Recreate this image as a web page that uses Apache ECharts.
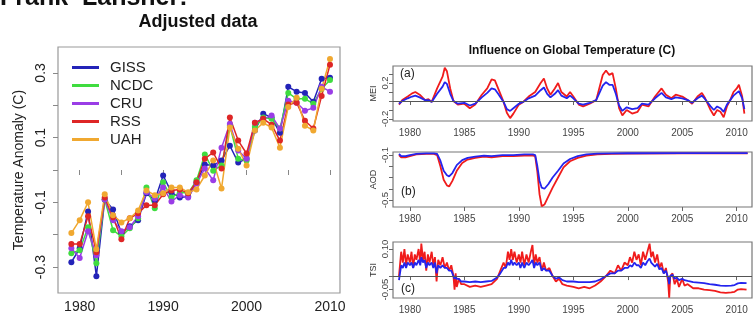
<!DOCTYPE html>
<html>
<head>
<meta charset="utf-8">
<script src="https://cdn.jsdelivr.net/npm/echarts@6/dist/echarts.min.js"></script>
<style>
    html, body { margin: 0; padding: 0; background: #fff; }
    #main { width: 755px; height: 318px; }
</style>
</head>
<body>
<div id="main"></div>
<script>
// 左图: 调整后的年均温度距平
var years = [1979, 1980, 1981, 1982, 1983, 1984, 1985, 1986, 1987, 1988, 1989, 1990, 1991, 1992, 1993, 1994,
    1995, 1996, 1997, 1998, 1999, 2000, 2001, 2002, 2003, 2004, 2005, 2006, 2007, 2008, 2009, 2010];
var giss = [-0.285, -0.242, -0.128, -0.328, -0.091, -0.122, -0.195, -0.174, -0.155, -0.072, -0.094, -0.017, -0.069, -0.085, -0.082, -0.038,
    0.017, 0.014, 0.029, 0.075, 0.023, 0.035, 0.122, 0.174, 0.162, 0.115, 0.257, 0.242, 0.238, 0.211, 0.282, 0.285];
var ncdc = [-0.257, -0.248, -0.177, -0.288, -0.091, -0.186, -0.205, -0.180, -0.149, -0.054, -0.118, -0.038, -0.085, -0.069, -0.072, -0.032,
    0.048, -0.002, 0.014, 0.137, 0.035, 0.029, 0.134, 0.162, 0.158, 0.128, 0.238, 0.220, 0.220, 0.205, 0.251, 0.278];
var cru = [-0.242, -0.272, -0.189, -0.263, -0.091, -0.155, -0.189, -0.177, -0.143, -0.069, -0.088, -0.054, -0.097, -0.078, -0.085, -0.042,
    0.005, -0.032, 0.069, 0.143, 0.060, 0.035, 0.146, 0.158, 0.168, 0.128, 0.214, 0.208, 0.183, 0.192, 0.257, 0.242];
var rss = [-0.229, -0.229, -0.143, -0.254, -0.085, -0.146, -0.214, -0.149, -0.134, -0.109, -0.109, -0.075, -0.063, -0.060, -0.072, -0.038,
    0.035, 0.054, 0.005, 0.162, 0.091, 0.051, 0.146, 0.158, 0.140, 0.091, 0.202, 0.208, 0.152, 0.128, 0.229, 0.325];
var uah = [-0.195, -0.155, -0.100, -0.245, -0.075, -0.140, -0.162, -0.149, -0.125, -0.063, -0.078, -0.072, -0.054, -0.054, -0.069, -0.060,
    -0.017, 0.029, -0.057, 0.131, 0.066, 0.014, 0.122, 0.146, 0.131, 0.069, 0.195, 0.223, 0.137, 0.122, 0.251, 0.343];
var leftTicksX = [1980, 1985, 1990, 1995, 2000, 2005, 2010];
var leftLabelsX = [1980, 1990, 2000, 2010];
var leftTicksY = [-0.3, -0.2, -0.1, 0, 0.1, 0.2, 0.3];
var leftLabelsY = [-0.3, -0.1, 0.1, 0.3];

// 右图 (a) MEI
var meiT = [1979.0, 1979.3, 1979.8, 1980.2, 1980.5, 1980.9, 1981.4, 1981.7, 1982.0, 1982.5, 1983.0, 1983.2, 1983.4, 1983.7,
    1984.0, 1984.4, 1985.0, 1985.5, 1986.0, 1986.6, 1987.1, 1987.5, 1987.8, 1988.1, 1988.6, 1988.9, 1989.2, 1989.5,
    1990.0, 1990.4, 1990.9, 1991.5, 1992.0, 1992.3, 1992.6, 1992.9, 1993.3, 1993.6, 1993.9, 1994.4, 1994.7, 1995.0,
    1995.5, 1995.9, 1996.5, 1997.1, 1997.7, 1998.0, 1998.3, 1998.6, 1998.9, 1999.2, 1999.5, 1999.9, 2000.4, 2000.9,
    2001.3, 2001.9, 2002.5, 2003.1, 2003.5, 2004.0, 2004.4, 2005.0, 2005.5, 2005.9, 2006.4, 2006.8, 2007.1, 2007.6,
    2007.9, 2008.2, 2008.5, 2008.8, 2009.1, 2009.4, 2009.7, 2010.0, 2010.2, 2010.5, 2010.7];
var meiRss = [-0.04, 0.01, 0.05, 0.085, 0.10, 0.07, 0.01, 0.02, -0.01, 0.14, 0.27, 0.37, 0.33, 0.14,
    0.00, -0.04, -0.03, -0.08, -0.04, 0.07, 0.14, 0.24, 0.23, 0.14, -0.01, -0.13, -0.19, -0.14,
    -0.04, -0.01, 0.05, 0.10, 0.20, 0.25, 0.14, 0.07, 0.14, 0.20, 0.10, 0.05, 0.10, 0.05,
    -0.04, -0.06, -0.03, 0.01, 0.29, 0.34, 0.29, 0.31, 0.14, -0.08, -0.16, -0.10, -0.14, -0.12,
    -0.04, -0.06, 0.05, 0.14, 0.07, 0.03, 0.07, 0.05, 0.01, -0.03, 0.05, 0.09, 0.03, -0.10,
    -0.16, -0.10, -0.12, -0.18, -0.06, 0.01, 0.10, 0.14, 0.18, 0.05, -0.14];
var meiGiss = [-0.03, 0.00, 0.03, 0.05, 0.06, 0.04, 0.01, 0.01, -0.01, 0.08, 0.16, 0.21, 0.19, 0.08,
    0.00, -0.03, -0.02, -0.05, -0.03, 0.04, 0.09, 0.14, 0.13, 0.08, -0.01, -0.09, -0.11, -0.08,
    -0.03, -0.01, 0.03, 0.06, 0.12, 0.15, 0.08, 0.04, 0.08, 0.12, 0.06, 0.03, 0.06, 0.03,
    -0.03, -0.04, -0.02, 0.01, 0.17, 0.21, 0.18, 0.18, 0.08, -0.05, -0.11, -0.07, -0.09, -0.08,
    -0.03, -0.04, 0.03, 0.09, 0.04, 0.02, 0.04, 0.03, 0.01, -0.02, 0.03, 0.06, 0.02, -0.06,
    -0.10, -0.06, -0.08, -0.12, -0.04, 0.01, 0.06, 0.09, 0.11, 0.03, -0.09];

// 右图 (b) AOD
var aodT = [1979.0, 1979.2, 1979.6, 1980.0, 1980.6, 1981.5, 1982.2, 1982.5, 1982.8, 1983.1, 1983.4, 1983.6, 1983.9,
    1984.3, 1984.8, 1985.3, 1986.0, 1986.8, 1987.5, 1988.5, 1989.5, 1990.5, 1991.3, 1991.5, 1991.7, 1991.9, 1992.1,
    1992.35, 1992.7, 1993.1, 1993.6, 1994.1, 1994.7, 1995.4, 1996.2, 1997.2, 1998.5, 2000.0, 2005.0, 2011.0];
var aodRss = [-0.10, -0.12, -0.12, -0.11, -0.095, -0.09, -0.09, -0.10, -0.20, -0.32, -0.37, -0.38, -0.33,
    -0.24, -0.17, -0.14, -0.125, -0.115, -0.12, -0.11, -0.11, -0.105, -0.105, -0.11, -0.25, -0.45, -0.555,
    -0.54, -0.47, -0.39, -0.30, -0.21, -0.155, -0.125, -0.105, -0.095, -0.09, -0.087, -0.085, -0.085];
var aodGiss = [-0.09, -0.11, -0.11, -0.10, -0.09, -0.085, -0.085, -0.09, -0.15, -0.24, -0.28, -0.29, -0.26,
    -0.19, -0.145, -0.125, -0.115, -0.105, -0.11, -0.10, -0.10, -0.095, -0.095, -0.10, -0.20, -0.33, -0.39,
    -0.40, -0.36, -0.30, -0.24, -0.175, -0.135, -0.11, -0.095, -0.088, -0.085, -0.084, -0.083, -0.083];

// 右图 (c) TSI
var tsiT = [1979.0, 1979.2, 1979.35, 1979.5, 1979.65, 1979.8, 1980.0, 1980.15, 1980.3, 1980.45, 1980.6, 1980.8, 1980.95,
    1981.05, 1981.2, 1981.35, 1981.5, 1981.65, 1981.8, 1982.0, 1982.15, 1982.3, 1982.45, 1982.6, 1982.8, 1983.0,
    1983.2, 1983.4, 1983.6, 1983.8, 1984.0, 1984.1, 1984.2, 1984.3, 1984.5, 1984.7, 1985.0, 1985.5, 1986.0, 1986.5,
    1987.0, 1987.5, 1988.0, 1988.3, 1988.6, 1988.8, 1989.0, 1989.15, 1989.3, 1989.45, 1989.6, 1989.8, 1990.0,
    1990.15, 1990.3, 1990.5, 1990.7, 1990.9, 1991.1, 1991.25, 1991.4, 1991.55, 1991.7, 1991.9, 1992.1, 1992.3,
    1992.5, 1992.8, 1993.1, 1993.4, 1993.7, 1994.0, 1994.4, 1995.0, 1995.5, 1996.0, 1996.5, 1997.0, 1997.5,
    1998.0, 1998.4, 1998.8, 1999.1, 1999.4, 1999.7, 2000.0, 2000.2, 2000.4, 2000.6, 2000.8, 2001.0, 2001.2,
    2001.4, 2001.6, 2001.8, 2002.0, 2002.15, 2002.3, 2002.5, 2002.7, 2002.9, 2003.1, 2003.3, 2003.5, 2003.7,
    2003.8, 2003.9, 2004.1, 2004.3, 2004.5, 2004.7, 2005.0, 2005.2, 2005.5, 2006.0, 2006.5, 2007.0, 2007.5,
    2008.0, 2008.5, 2009.0, 2009.5, 2009.8, 2010.1, 2010.4, 2010.9];
var tsiRss = [0.00, 0.09, 0.05, 0.10, 0.04, 0.08, 0.05, 0.09, 0.03, 0.08, 0.06, 0.10, 0.05,
    0.12, 0.06, 0.09, 0.02, 0.08, 0.05, 0.09, 0.04, 0.07, -0.02, 0.06, 0.04, 0.07,
    0.03, 0.05, 0.02, 0.04, 0.00, -0.05, 0.01, -0.04, -0.01, -0.03, -0.03, -0.04, -0.035, -0.04,
    -0.035, -0.03, -0.01, 0.02, 0.05, 0.03, 0.09, 0.06, 0.10, 0.06, 0.09, 0.05, 0.08,
    0.05, 0.09, 0.04, 0.08, 0.05, 0.09, 0.115, 0.04, 0.08, 0.05, 0.07, 0.02, 0.05,
    0.02, 0.03, 0.00, -0.02, -0.01, -0.03, -0.035, -0.04, -0.045, -0.04, -0.045, -0.035, -0.02,
    0.00, 0.02, 0.01, 0.04, 0.02, 0.05, 0.04, 0.07, 0.05, 0.09, 0.06, 0.08, 0.04,
    0.09, 0.06, 0.09, 0.12, 0.07, 0.09, 0.05, 0.08, 0.03, 0.05, 0.01, 0.03, -0.02,
    -0.08, 0.00, 0.01, -0.03, -0.01, -0.04, -0.01, -0.035, -0.03, -0.045, -0.045, -0.05, -0.052,
    -0.055, -0.06, -0.062, -0.06, -0.058, -0.05, -0.048, -0.05];
var tsiGiss = [-0.015, 0.04, 0.03, 0.05, 0.03, 0.05, 0.04, 0.05, 0.03, 0.05, 0.04, 0.06, 0.04,
    0.07, 0.05, 0.06, 0.03, 0.05, 0.04, 0.05, 0.03, 0.05, 0.01, 0.04, 0.03, 0.04,
    0.03, 0.03, 0.02, 0.02, 0.00, -0.01, 0.00, -0.01, -0.01, -0.02, -0.02, -0.022, -0.02, -0.022,
    -0.02, -0.018, -0.005, 0.01, 0.03, 0.03, 0.05, 0.04, 0.06, 0.04, 0.05, 0.04, 0.05,
    0.03, 0.05, 0.03, 0.05, 0.04, 0.05, 0.06, 0.03, 0.05, 0.04, 0.05, 0.02, 0.03,
    0.02, 0.02, 0.00, -0.01, -0.005, -0.015, -0.02, -0.02, -0.022, -0.022, -0.022, -0.02, -0.012,
    0.00, 0.01, 0.01, 0.02, 0.02, 0.03, 0.03, 0.04, 0.035, 0.05, 0.04, 0.04, 0.03,
    0.05, 0.04, 0.055, 0.065, 0.05, 0.05, 0.035, 0.045, 0.025, 0.03, 0.01, 0.02, -0.005,
    -0.03, 0.00, 0.005, -0.01, -0.005, -0.015, -0.01, -0.015, -0.018, -0.022, -0.024, -0.026, -0.03,
    -0.032, -0.035, -0.036, -0.035, -0.033, -0.027, -0.025, -0.026];
var rightTicksX = [1980, 1985, 1990, 1995, 2000, 2005, 2010];

function pairs(xs, ys) {
    var out = [];
    for (var i = 0; i < xs.length; i++) {
        out.push([xs[i], ys[i]]);
    }
    return out;
}

var FONT = 'Liberation Sans, Arial, sans-serif';
var BLUE = '#2424ee';
var RED = '#f01c1c';

function leftSeries(name, data, color) {
    return {
        name: name,
        type: 'line',
        xAxisIndex: 0,
        yAxisIndex: 0,
        data: pairs(years, data),
        symbol: 'circle',
        symbolSize: 6,
        itemStyle: { color: color },
        lineStyle: { color: color, width: 1.5 }
    };
}

function panelSeries(idx, name, xs, ys, color, zero) {
    var s = {
        name: name,
        type: 'line',
        xAxisIndex: idx,
        yAxisIndex: idx,
        data: pairs(xs, ys),
        showSymbol: false,
        lineStyle: { color: color, width: 1.8 },
        itemStyle: { color: color }
    };
    if (zero) {
        s.markLine = {
            silent: true,
            symbol: 'none',
            label: { show: false },
            lineStyle: { color: '#555', width: 1, type: 'solid' },
            data: [{ yAxis: 0 }]
        };
    }
    return s;
}

function panelX(idx) {
    return {
        type: 'value', gridIndex: idx, min: 1978.45, max: 2011.4,
        axisLine: { show: false },
        splitLine: { show: false },
        axisTick: { customValues: rightTicksX, length: 4, lineStyle: { color: '#666' } },
        axisLabel: { customValues: rightTicksX, fontSize: 10, color: '#444', margin: 7, fontFamily: FONT,
            formatter: function (v) { return String(v); } }
    };
}

function panelY(idx, name, min, max, ticks, labels, digits) {
    return {
        type: 'value', gridIndex: idx, min: min, max: max,
        name: name, nameLocation: 'middle', nameRotate: 90, nameGap: 15,
        nameTextStyle: { fontSize: 9, color: '#333', fontFamily: FONT },
        axisLine: { show: false },
        splitLine: { show: false },
        axisTick: { customValues: ticks, length: 4, lineStyle: { color: '#666' } },
        axisLabel: { customValues: labels, rotate: 90, fontSize: 9.5, color: '#444', margin: 3, fontFamily: FONT,
            formatter: function (v) { return Number(v).toFixed(digits); } }
    };
}

var chart = echarts.init(document.getElementById('main'));

var option = {
    animation: false,
    backgroundColor: '#fff',
    textStyle: { fontFamily: FONT },
    grid: [
        { left: 58, top: 47, width: 282, height: 246, show: true, borderColor: '#999', borderWidth: 1.2 },
        { left: 393, top: 66, width: 359, height: 55, show: true, borderColor: '#777', borderWidth: 1.2 },
        { left: 393, top: 152, width: 359, height: 55, show: true, borderColor: '#777', borderWidth: 1.2 },
        { left: 393, top: 242, width: 359, height: 56, show: true, borderColor: '#777', borderWidth: 1.2 }
    ],
    legend: {
        orient: 'vertical',
        left: 67,
        top: 55,
        itemWidth: 27,
        itemHeight: 3,
        itemGap: 3,
        icon: 'rect',
        data: ['GISS', 'NCDC', 'CRU', 'RSS', 'UAH'],
        textStyle: { fontSize: 15, color: '#222', fontFamily: FONT, padding: [0, 0, 0, 6] }
    },
    xAxis: [
        {
            type: 'value', gridIndex: 0, min: 1977.4, max: 2011.2,
            axisLine: { show: false },
            splitLine: { show: false },
            axisTick: { customValues: leftTicksX, length: 5, lineStyle: { color: '#888' } },
            axisLabel: { customValues: leftLabelsX, fontSize: 14, color: '#222', margin: 7, fontFamily: FONT,
                formatter: function (v) { return String(v); } }
        },
        panelX(1), panelX(2), panelX(3)
    ],
    yAxis: [
        {
            type: 'value', gridIndex: 0, min: -0.38, max: 0.38,
            name: 'Temperature Anomaly (C)', nameLocation: 'middle', nameRotate: 90, nameGap: 32,
            nameTextStyle: { fontSize: 14, color: '#222', fontFamily: FONT },
            axisLine: { show: false },
            splitLine: { show: false },
            axisTick: { customValues: leftTicksY, length: 5, lineStyle: { color: '#888' } },
            axisLabel: { customValues: leftLabelsY, rotate: 90, fontSize: 14, color: '#222', margin: 10, fontFamily: FONT,
                formatter: function (v) { return Number(v).toFixed(1); } }
        },
        panelY(1, 'MEI', -0.222, 0.389, [-0.2, -0.1, 0, 0.1, 0.2, 0.3], [-0.2, 0.2], 1),
        panelY(2, 'AOD', -0.562, -0.073, [-0.5, -0.4, -0.3, -0.2, -0.1], [-0.5, -0.1], 1),
        panelY(3, 'TSI', -0.081, 0.126, [-0.05, 0, 0.05, 0.1], [-0.05, 0.1], 2)
    ],
    series: [
        leftSeries('GISS', giss, '#2323b8'),
        leftSeries('NCDC', ncdc, '#3fdc3f'),
        leftSeries('CRU', cru, '#9a3de6'),
        leftSeries('RSS', rss, '#de2626'),
        leftSeries('UAH', uah, '#f0a830'),
        panelSeries(1, 'MEI RSS', meiT, meiRss, RED, true),
        panelSeries(1, 'MEI GISS', meiT, meiGiss, BLUE, false),
        panelSeries(2, 'AOD RSS', aodT, aodRss, RED, false),
        panelSeries(2, 'AOD GISS', aodT, aodGiss, BLUE, false),
        panelSeries(3, 'TSI RSS', tsiT, tsiRss, RED, true),
        panelSeries(3, 'TSI GISS', tsiT, tsiGiss, BLUE, false)
    ],
    graphic: [
        { type: 'text', left: 0, top: -14, style: { text: 'Frank  Lansner:', font: 'bold 25px ' + FONT, fill: '#111' } },
        { type: 'text', x: 198, y: 22, style: { text: 'Adjusted data', font: 'bold 18px ' + FONT, fill: '#111', align: 'center', verticalAlign: 'middle' } },
        { type: 'text', x: 572, y: 51, style: { text: 'Influence on Global Temperature (C)', font: 'bold 12px ' + FONT, fill: '#111', align: 'center', verticalAlign: 'middle' } },
        { type: 'text', x: 400, y: 74, style: { text: '(a)', font: '12px ' + FONT, fill: '#222', verticalAlign: 'middle' } },
        { type: 'text', x: 401, y: 192, style: { text: '(b)', font: '12px ' + FONT, fill: '#222', verticalAlign: 'middle' } },
        { type: 'text', x: 401, y: 289, style: { text: '(c)', font: '12px ' + FONT, fill: '#222', verticalAlign: 'middle' } }
    ]
};

chart.setOption(option);
</script>
</body>
</html>
